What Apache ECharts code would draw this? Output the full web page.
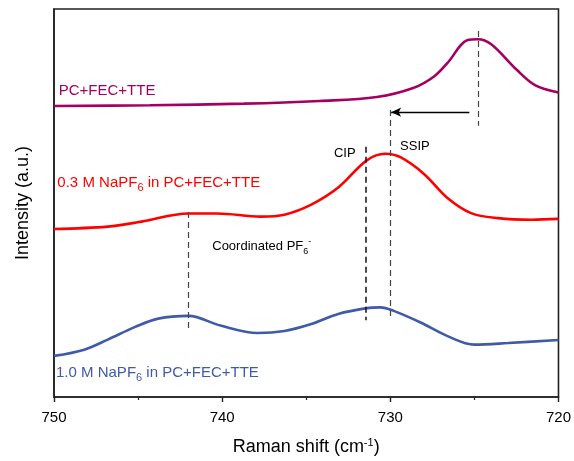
<!DOCTYPE html>
<html>
<head>
<meta charset="utf-8">
<script src="https://cdn.jsdelivr.net/npm/echarts@6/dist/echarts.min.js"></script>
<style>
  html, body { margin: 0; padding: 0; background: #ffffff; }
  #chart { width: 574px; height: 461px; }
</style>
</head>
<body>
<div id="chart"></div>
<script>
// Raman spectra (P–F stretching region), offset vertically for clarity
const xTicks = [750, 740, 730, 720];

// PC+FEC+TTE solvent only
const solventShift = [750.0, 744.3, 738.7, 734.2, 730.8, 728.6, 727.4, 726.6, 725.4, 724.8, 724.0, 722.5, 721.4, 720.0];
const solventIntensity = [75.0, 75.2, 75.6, 76.3, 77.3, 79.7, 82.6, 86.1, 92.0, 92.2, 90.9, 84.4, 80.4, 78.5];

// 0.3 M NaPF6 in PC+FEC+TTE
const lowShift = [750.0, 746.8, 744.8, 742.0, 740.3, 737.7, 736.3, 734.7, 733.1, 731.4, 730.3, 729.4, 728.0, 726.6, 725.2, 723.6, 721.6, 720.0];
const lowIntensity = [43.3, 43.9, 45.2, 47.3, 47.3, 46.5, 47.0, 49.6, 54.0, 61.0, 62.7, 61.8, 57.5, 51.3, 47.4, 46.1, 45.7, 45.9];

// 1.0 M NaPF6 in PC+FEC+TTE
const highShift = [750.0, 748.2, 746.8, 745.2, 743.8, 742.0, 740.1, 737.9, 736.3, 734.7, 733.1, 731.4, 730.6, 729.8, 728.2, 726.6, 725.0, 723.0, 720.0];
const highIntensity = [10.6, 12.2, 14.8, 18.0, 20.2, 20.9, 18.4, 16.5, 17.0, 18.8, 21.4, 22.9, 23.1, 22.2, 19.2, 15.7, 13.5, 13.9, 14.7];

// Band positions (cm-1)
const solventPeak = 724.8;
const ssipBand = 730.0;
const cipBand = 731.45;
const coordBand = 742.0;

const FONT = '"Liberation Sans", Arial, sans-serif';
const PURPLE = '#a5005f';
const RED = '#ff0000';
const BLUE = '#3f5aa8';

function pairs(xs, ys) { return xs.map((x, i) => [x, ys[i]]); }

const chart = echarts.init(document.getElementById('chart'), null, { renderer: 'canvas' });

const dashGray = { color: '#444', width: 1.2, type: [6, 4] };
const dashBlack = { color: '#111', width: 1.5, type: [6, 4] };

const lineSeries = (name, xs, ys, color) => ({
  name, type: 'line', data: pairs(xs, ys),
  showSymbol: false, smooth: 0.35,
  lineStyle: { color, width: 2.6 }, itemStyle: { color }, z: 3
});

const solvent = lineSeries('PC+FEC+TTE', solventShift, solventIntensity, PURPLE);
solvent.markLine = {
  silent: true, symbol: ['none', 'none'], label: { show: false },
  data: [
    [{ coord: [solventPeak, 94.3], lineStyle: dashGray }, { coord: [solventPeak, 69.9] }],
    [{ coord: [ssipBand, 74.0], lineStyle: dashGray }, { coord: [ssipBand, 20.3] }],
    [{ coord: [cipBand, 64.5], lineStyle: dashBlack }, { coord: [cipBand, 19.8] }],
    [{ coord: [coordBand, 47.7], lineStyle: dashGray }, { coord: [coordBand, 17.5] }],
    [
      { coord: [725.3, 73.4], symbol: 'none', lineStyle: { color: '#000', width: 1.4, type: 'solid' } },
      { coord: [729.95, 73.4], symbol: 'arrow', symbolSize: [7, 10] }
    ]
  ]
};

chart.setOption({
  animation: false,
  backgroundColor: '#ffffff',
  textStyle: { fontFamily: FONT },
  grid: {
    left: 54, right: 14, top: 9, bottom: 63,
    show: true, borderColor: '#222', borderWidth: 1.6, backgroundColor: 'transparent'
  },
  xAxis: {
    type: 'value', inverse: true, min: 720, max: 750, interval: 10,
    name: 'Raman shift (cm{sup|-1})',
    nameLocation: 'middle', nameGap: 40,
    nameTextStyle: {
      fontFamily: FONT, fontSize: 18, color: '#000',
      rich: { sup: { fontFamily: FONT, fontSize: 11, color: '#000', verticalAlign: 'top', padding: [0, 0, 9, 0] } }
    },
    axisLine: { show: true, lineStyle: { color: '#222', width: 1.6 } },
    axisTick: { show: true, inside: false, length: 5, lineStyle: { color: '#222', width: 1.4 } },
    minorTick: { show: true, splitNumber: 2, length: 3, lineStyle: { color: '#222', width: 1.2 } },
    axisLabel: {
      fontFamily: FONT, fontSize: 15, color: '#000', margin: 13,
      customValues: xTicks
    },
    splitLine: { show: false }
  },
  yAxis: {
    type: 'value', min: 0, max: 100,
    name: 'Intensity (a.u.)', nameLocation: 'middle', nameGap: 22, nameRotate: 90,
    nameTextStyle: { fontFamily: FONT, fontSize: 18, color: '#000' },
    axisLine: { show: true, lineStyle: { color: '#222', width: 1.6 } },
    axisTick: { show: false }, axisLabel: { show: false }, splitLine: { show: false }
  },
  series: [
    solvent,
    lineSeries('0.3 M', lowShift, lowIntensity, RED),
    lineSeries('1.0 M', highShift, highIntensity, BLUE)
  ]
});

// Text annotations anchored in data coordinates
const labels = [
  { at: [749.72, 78.9], align: 'left', text: 'PC+FEC+TTE', color: PURPLE, size: 15 },
  { at: [749.8, 55.1], align: 'left', text: '0.3 M NaPF{sub|6} in PC+FEC+TTE', color: RED, size: 15 },
  { at: [749.88, 6.2], align: 'left', text: '1.0 M NaPF{sub|6} in PC+FEC+TTE', color: BLUE, size: 15 },
  { at: [732.71, 62.7], align: 'center', text: 'CIP', color: '#000', size: 13 },
  { at: [728.54, 64.5], align: 'center', text: 'SSIP', color: '#000', size: 13 },
  { at: [740.59, 38.7], align: 'left', text: 'Coordinated PF{sub|6}{sup|-}', color: '#000', size: 13 }
];

chart.setOption({
  graphic: labels.map(l => {
    const p = chart.convertToPixel({ gridIndex: 0 }, l.at);
    const small = Math.round(l.size * 0.7);
    return {
      type: 'text', x: p[0], y: p[1], z: 10, silent: true,
      style: {
        text: l.text, fill: l.color,
        fontFamily: FONT, fontSize: l.size,
        align: l.align, verticalAlign: 'middle',
        rich: {
          sub: { fontFamily: FONT, fontSize: small, fill: l.color, verticalAlign: 'bottom', padding: [10, 0, 0, 0] },
          sup: { fontFamily: FONT, fontSize: small, fill: l.color, verticalAlign: 'top', padding: [0, 0, 8, 0] }
        }
      }
    };
  })
});
</script>
</body>
</html>
